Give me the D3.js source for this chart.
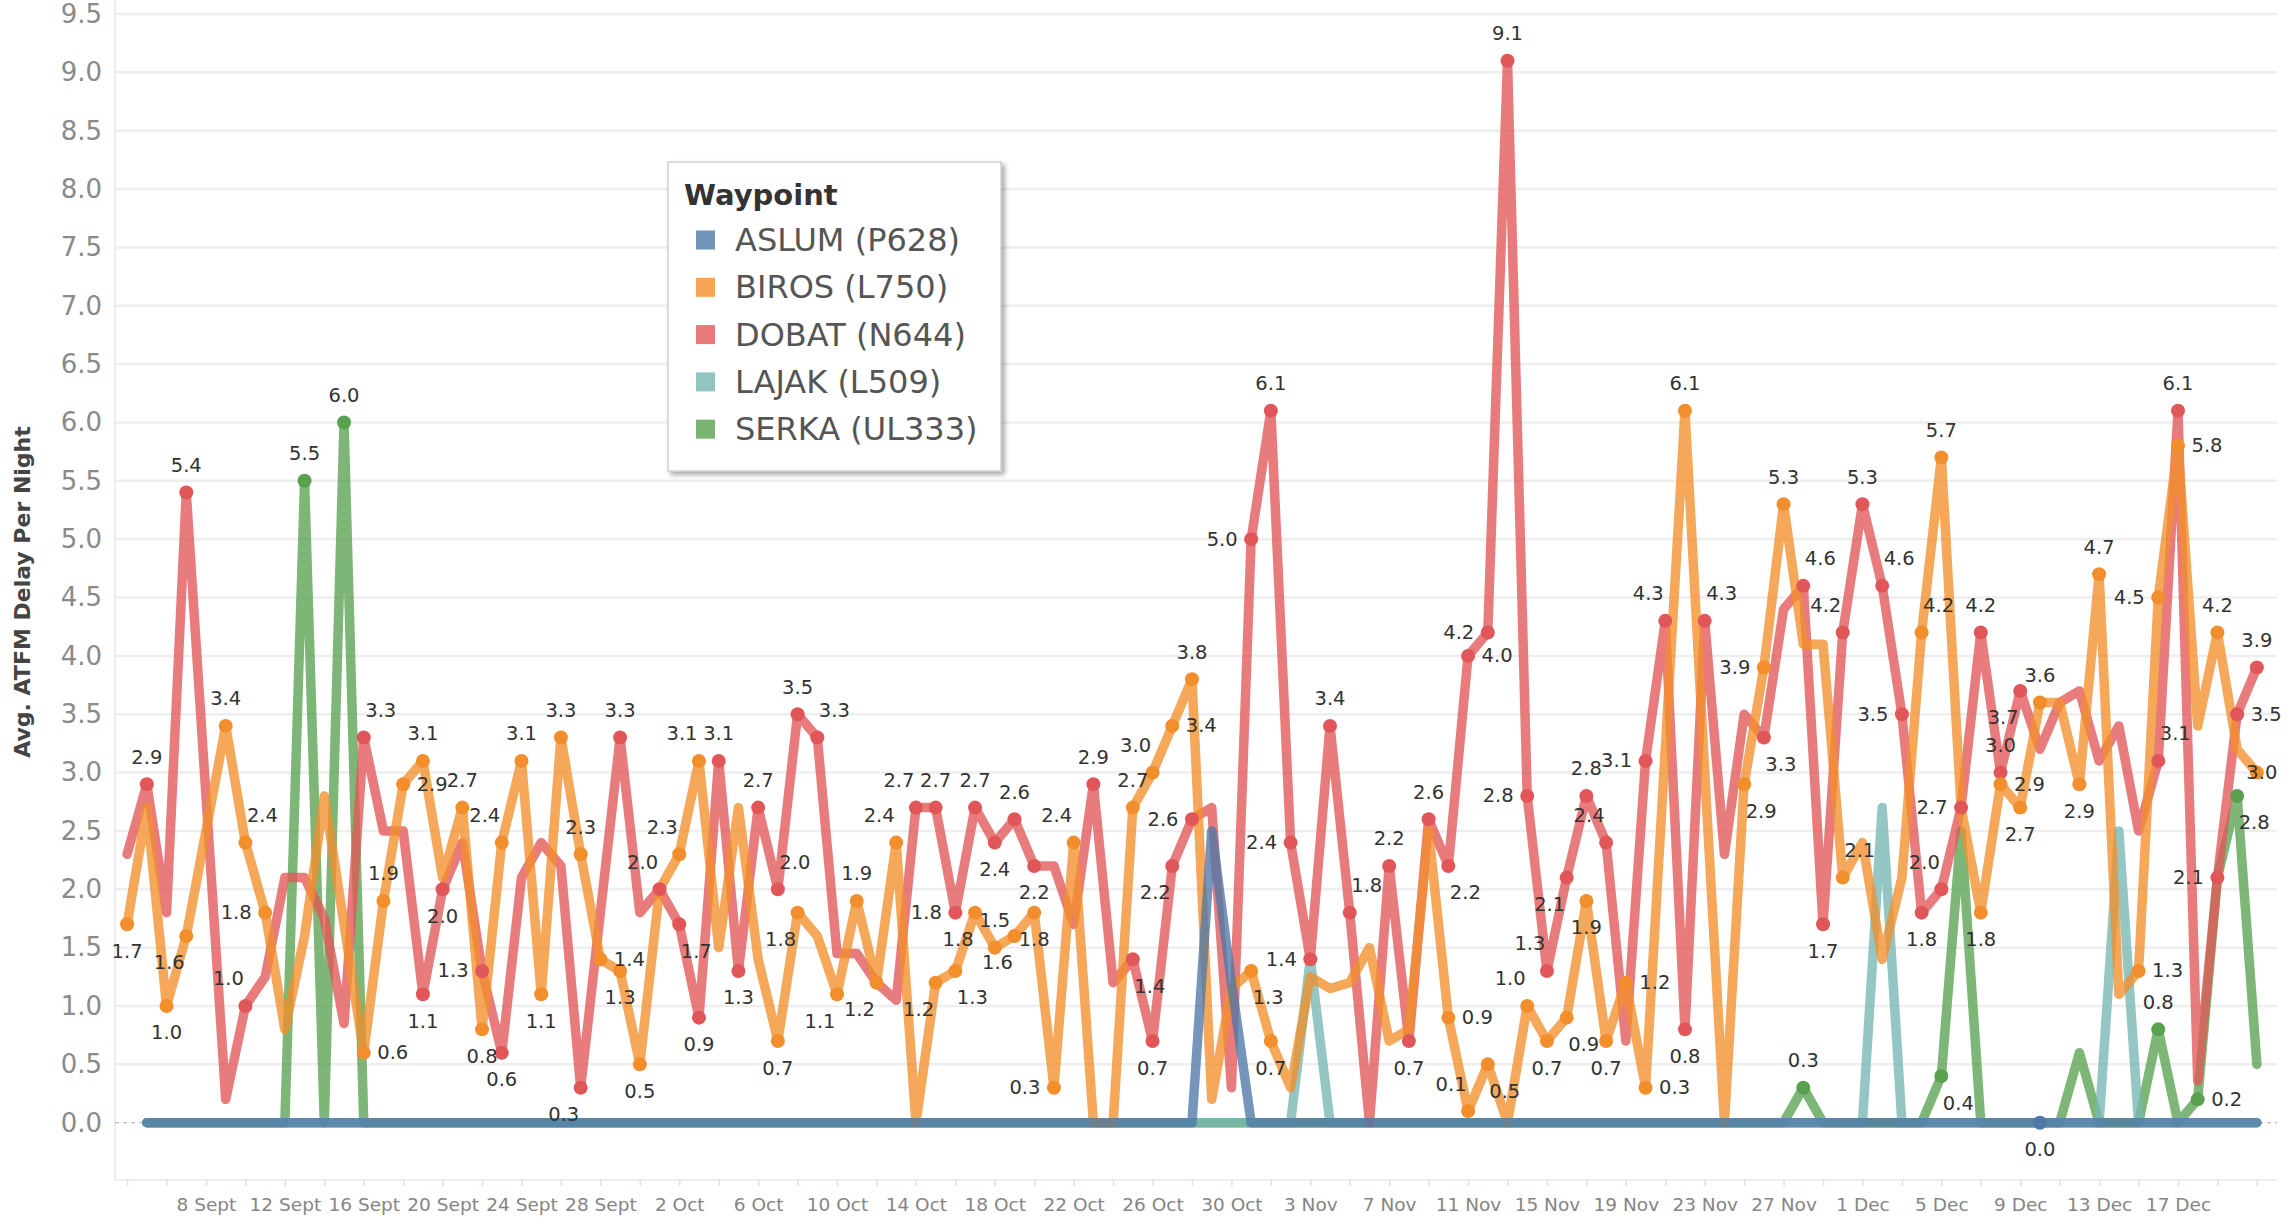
<!DOCTYPE html>
<html><head><meta charset="utf-8">
<script src="https://cdn.jsdelivr.net/npm/d3@7/dist/d3.min.js"></script>
<style>html,body{margin:0;padding:0;background:#fff;}svg{display:block;font-family:"DejaVu Sans",sans-serif;}</style>
</head><body><svg id="chart" width="2292" height="1225"></svg>
<script>
// ---------- DATA (one value per night, 4 Sept .. 21 Dec) ----------
const tickLabels = ["8 Sept","12 Sept","16 Sept","20 Sept","24 Sept","28 Sept","2 Oct","6 Oct","10 Oct","14 Oct","18 Oct","22 Oct","26 Oct","30 Oct","3 Nov","7 Nov","11 Nov","15 Nov","19 Nov","23 Nov","27 Nov","1 Dec","5 Dec","9 Dec","13 Dec","17 Dec"];
const yTicks = [0,0.5,1,1.5,2,2.5,3,3.5,4,4.5,5,5.5,6,6.5,7,7.5,8,8.5,9,9.5];
const seriesNames = ["ASLUM (P628)","BIROS (L750)","DOBAT (N644)","LAJAK (L509)","SERKA (UL333)"];

const aslum = [
 null,0,0,0,0,0,0,0,0,0,
 0,0,0,0,0,0,0,0,0,0,
 0,0,0,0,0,0,0,0,0,0,
 0,0,0,0,0,0,0,0,0,0,
 0,0,0,0,0,0,0,0,0,0,
 0,0,0,0,0,2.5,1.2,0,0,0,
 0,0,0,0,0,0,0,0,0,0,
 0,0,0,0,0,0,0,0,0,0,
 0,0,0,0,0,0,0,0,0,0,
 0,0,0,0,0,0,0,0,0,0,
 0,0,0,0,0,0,0,0,0];
const biros = [
 1.7,2.7,1.0,1.6,2.5,3.4,2.4,1.8,0.8,1.6,
 2.8,1.7,0.6,1.9,2.9,3.1,2.1,2.7,0.8,2.4,
 3.1,1.1,3.3,2.3,1.4,1.3,0.5,2.0,2.3,3.1,
 1.5,2.7,1.4,0.7,1.8,1.6,1.1,1.9,1.2,2.4,
 0.0,1.2,1.3,1.8,1.5,1.6,1.8,0.3,2.4,0.0,
 0.0,2.7,3.0,3.4,3.8,0.2,1.15,1.3,0.7,0.3,
 1.25,1.15,1.2,1.5,0.7,0.8,2.5,0.9,0.1,0.5,
 0.0,1.0,0.7,0.9,1.9,0.7,1.2,0.3,3.2,6.1,
 3.0,0.0,2.9,3.9,5.3,4.1,4.1,2.1,2.4,1.4,
 2.1,4.2,5.7,2.7,1.8,2.9,2.7,3.6,3.6,2.9,
 4.7,1.1,1.3,4.5,5.8,3.4,4.2,3.2,3.0];
const dobat = [
 2.3,2.9,1.8,5.4,2.8,0.2,1.0,1.25,2.1,2.1,
 1.75,0.85,3.3,2.5,2.5,1.1,2.0,2.4,1.3,0.6,
 2.1,2.4,2.2,0.3,1.8,3.3,1.8,2.0,1.7,0.9,
 3.1,1.3,2.7,2.0,3.5,3.3,1.45,1.45,1.2,1.05,
 2.7,2.7,1.8,2.7,2.4,2.6,2.2,2.2,1.7,2.9,
 1.2,1.4,0.7,2.2,2.6,2.7,0.3,5.0,6.1,2.4,
 1.4,3.4,1.8,0.0,2.2,0.7,2.6,2.2,4.0,4.2,
 9.1,2.8,1.3,2.1,2.8,2.4,0.7,3.1,4.3,0.8,
 4.3,2.3,3.5,3.3,4.4,4.6,1.7,4.2,5.3,4.6,
 3.5,1.8,2.0,2.7,4.2,3.0,3.7,3.2,3.6,3.7,
 3.1,3.4,2.5,3.1,6.1,0.36,2.1,3.5,3.9];
const lajak = [
 null,0,0,0,0,0,0,0,0,0,
 0,0,0,0,0,0,0,0,0,0,
 0,0,0,0,0,0,0,0,0,0,
 0,0,0,0,0,0,0,0,0,0,
 0,0,0,0,0,0,0,0,0,0,
 0,0,0,0,0,0,0,0,0,0,
 1.4,0,0,0,0,0,0,0,0,0,
 0,0,0,0,0,0,0,0,0,0,
 0,0,0,0,0,0,0,0,0,2.7,
 0,0,0,0,0,0,0,0,0,0,
 0,2.5,0,0,0,0,0,0,0];
const serka = [
 null,0,0,0,0,0,0,0,0,5.5,
 0,6.0,0,0,0,0,0,0,0,0,
 0,0,0,0,0,0,0,0,0,0,
 0,0,0,0,0,0,0,0,0,0,
 0,0,0,0,0,0,0,0,0,0,
 0,0,0,0,0,0,0,0,0,0,
 0,0,0,0,0,0,0,0,0,0,
 0,0,0,0,0,0,0,0,0,0,
 0,0,0,0,0,0.3,0,0,0,0,
 0,0,0.4,2.5,0,0,0,0,0,0.6,
 0,0,0,0.8,0,0.2,2.1,2.8,0.5];

// labelled nights per series (day index -> label side)
const labelSides = {
 "ASLUM (P628)": {97:"b"},
 "BIROS (L750)": {0:"b",2:"b",3:"bl",5:"a",6:"ar",7:"l",12:"r",13:"a",14:"r",15:"a",17:"a",18:"b",19:"al",20:"a",21:"b",22:"a",23:"a",24:"r",25:"b",26:"b",28:"al",29:"al",33:"b",34:"bl",36:"bl",37:"a",38:"bl",39:"al",41:"bl",42:"br",43:"bl",44:"a",45:"bl",46:"b",47:"l",48:"al",51:"a",52:"al",53:"r",54:"a",57:"br",58:"b",67:"r",68:"al",69:"br",71:"al",72:"b",73:"br",74:"b",75:"b",76:"r",77:"r",79:"a",82:"br",83:"l",84:"a",87:"ar",91:"ar",92:"a",94:"b",95:"r",96:"b",97:"a",99:"b",100:"a",102:"r",103:"l",104:"r",106:"a",108:"c"},
 "DOBAT (N644)": {1:"a",3:"a",6:"al",12:"ar",15:"b",16:"b",18:"l",19:"b",23:"bl",25:"a",27:"al",28:"br",29:"b",30:"a",31:"b",32:"a",33:"ar",34:"a",35:"ar",40:"al",41:"a",42:"l",43:"a",44:"b",45:"a",46:"b",49:"a",51:"br",52:"b",53:"bl",54:"l",57:"l",58:"a",59:"l",60:"l",61:"a",62:"ar",64:"a",65:"b",66:"a",67:"br",68:"r",69:"l",70:"a",71:"l",72:"al",73:"bl",74:"a",75:"al",77:"l",78:"al",79:"b",80:"ar",83:"br",85:"ar",86:"b",87:"al",88:"a",89:"ar",90:"l",91:"b",92:"al",93:"l",94:"a",95:"a",96:"bl",103:"ar",104:"a",106:"l",107:"r",108:"a"},
 "LAJAK (L509)": {},
 "SERKA (UL333)": {9:"a",11:"a",85:"a",92:"br",103:"a",105:"r",107:"br"}
};

// ---------- LAYOUT ----------
const colors = {"ASLUM (P628)":"#4e79a7","BIROS (L750)":"#f28e2b","DOBAT (N644)":"#e15759","LAJAK (L509)":"#76b7b2","SERKA (UL333)":"#59a14f"};
const seriesValues = {"ASLUM (P628)":aslum,"BIROS (L750)":biros,"DOBAT (N644)":dobat,"LAJAK (L509)":lajak,"SERKA (UL333)":serka};
const nDays = dobat.length;
const plotLeft = 115, plotRight = 2277, axisY = 1180;

const x = d3.scaleLinear().domain([0, nDays-1]).range([127.1, 127.1 + 19.72*(nDays-1)]);
const y = d3.scaleLinear().domain([0, 9.5]).range([1122.7, 14]);

const svg = d3.select("#chart");

// gridlines
svg.append("g").selectAll("line").data(yTicks.filter(v => v > 0)).join("line")
  .attr("x1", plotLeft).attr("x2", plotRight)
  .attr("y1", d => y(d)).attr("y2", d => y(d))
  .attr("stroke", "#eeeeee").attr("stroke-width", 2.5);

// left and bottom axis lines
svg.append("line").attr("x1", plotLeft).attr("x2", plotLeft).attr("y1", 0).attr("y2", axisY)
  .attr("stroke", "#e8e8e8").attr("stroke-width", 1.5);
svg.append("line").attr("x1", plotLeft).attr("x2", plotRight).attr("y1", axisY).attr("y2", axisY)
  .attr("stroke", "#e8e8e8").attr("stroke-width", 1.5);

// zero reference line (dashed)
svg.append("line").attr("x1", plotLeft).attr("x2", plotRight).attr("y1", y(0)).attr("y2", y(0))
  .attr("stroke", "#bbbbbb").attr("stroke-width", 1.2).attr("stroke-dasharray", "4,4");

// y axis
const yAxis = d3.axisLeft(y).tickValues(yTicks).tickFormat(d3.format(".1f")).tickSize(0).tickPadding(0);
const gy = svg.append("g").attr("transform", "translate(102,0)").call(yAxis);
gy.select(".domain").remove();
gy.selectAll("text").attr("font-family", "DejaVu Sans").attr("font-size", 26).attr("fill", "#8a8a8a");

// x axis
const xTickDays = d3.range(0, nDays, 2);
const xAxis = d3.axisBottom(x).tickValues(xTickDays).tickSize(6).tickPadding(12)
  .tickFormat(d => (d >= 4 && (d - 4) % 4 === 0) ? (tickLabels[(d - 4) / 4] || "") : "");
const gx = svg.append("g").attr("transform", `translate(0,${axisY})`).call(xAxis);
gx.select(".domain").remove();
gx.selectAll(".tick line").attr("stroke", "#e0e0e0").attr("stroke-width", 1.5);
gx.selectAll("text").attr("font-family", "DejaVu Sans").attr("font-size", 18.5).attr("fill", "#858585");

// y axis title
svg.append("text").attr("transform", "translate(22,592) rotate(-90)")
  .attr("text-anchor", "middle").attr("dominant-baseline", "central")
  .attr("font-family", "DejaVu Sans").attr("font-weight", "bold").attr("font-size", 22).attr("fill", "#444")
  .text("Avg. ATFM Delay Per Night");

// lines (bottom -> top)
const drawOrder = ["SERKA (UL333)","LAJAK (L509)","DOBAT (N644)","BIROS (L750)","ASLUM (P628)"];
const line = d3.line().defined(d => d.v !== null).x(d => x(d.i)).y(d => y(d.v));
const linesG = svg.append("g");
drawOrder.forEach(name => {
  const pts = seriesValues[name].map((v, i) => ({i, v}));
  linesG.append("path").datum(pts).attr("d", line)
    .attr("fill", "none").attr("stroke", colors[name]).attr("stroke-opacity", 0.78)
    .attr("stroke-width", 9.5).attr("stroke-linejoin", "round").attr("stroke-linecap", "round");
});

// dots + labels
const offsets = {a:[0,-27], b:[0,27], l:[-29,0], r:[29,0], al:[-17,-27], ar:[17,-27], bl:[-17,27], br:[17,27], c:[5,0]};
const dotsG = svg.append("g"), labG = svg.append("g");
drawOrder.forEach(name => {
  const vals = seriesValues[name];
  Object.entries(labelSides[name]).forEach(([k, side]) => {
    const i = +k, v = vals[i];
    dotsG.append("circle").attr("cx", x(i)).attr("cy", y(v)).attr("r", 7).attr("fill", colors[name]);
    const o = offsets[side];
    labG.append("text").attr("x", x(i) + o[0]).attr("y", y(v) + o[1])
      .attr("text-anchor", "middle").attr("dominant-baseline", "central")
      .attr("font-family", "DejaVu Sans").attr("font-size", 19.5).attr("fill", "#333")
      .text(d3.format(".1f")(v));
  });
});

// legend
const defs = svg.append("defs");
const f = defs.append("filter").attr("id", "shadow").attr("x", "-10%").attr("y", "-10%").attr("width", "130%").attr("height", "130%");
f.append("feDropShadow").attr("dx", 3).attr("dy", 3).attr("stdDeviation", 2.5).attr("flood-color", "#000").attr("flood-opacity", 0.35);
const lg = svg.append("g");
lg.append("rect").attr("x", 668).attr("y", 162).attr("width", 333).attr("height", 309)
  .attr("fill", "#fff").attr("stroke", "#cfcfcf").attr("stroke-width", 1.5).attr("filter", "url(#shadow)");
lg.append("text").attr("x", 684).attr("y", 205).attr("font-family", "DejaVu Sans").attr("font-weight", "bold")
  .attr("font-size", 29).attr("fill", "#333").text("Waypoint");
seriesNames.forEach((name, k) => {
  const cy = 240 + 47.3 * k;
  lg.append("rect").attr("x", 696).attr("y", cy - 9.5).attr("width", 19).attr("height", 19)
    .attr("fill", colors[name]).attr("fill-opacity", 0.8);
  lg.append("text").attr("x", 735).attr("y", cy).attr("dominant-baseline", "central")
    .attr("font-family", "DejaVu Sans").attr("font-size", 32).attr("fill", "#555").text(name);
});
</script></body></html>
